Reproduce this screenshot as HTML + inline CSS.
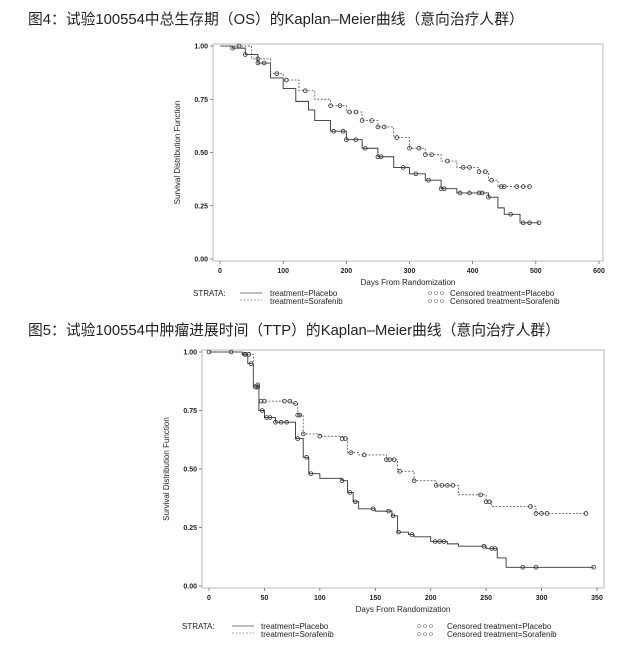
<!DOCTYPE html>
<html><head><meta charset="utf-8">
<style>
body{margin:0;background:#fff;width:633px;height:648px;overflow:hidden}
svg{display:block}
text{font-family:"Liberation Sans","Noto Sans CJK SC",sans-serif;fill:#222}
.tk{font-size:7px;font-weight:bold}
.lg{font-size:8px}
.ttl{font-size:14.8px}
</style></head>
<body>
<svg id="s" width="633" height="648">
<text class="ttl" x="28" y="24">图4：试验100554中总生存期（OS）的Kaplan–Meier曲线（意向治疗人群）</text>
<text class="ttl" x="28" y="335">图5：试验100554中肿瘤进展时间（TTP）的Kaplan–Meier曲线（意向治疗人群）</text>
</svg>
<script>
// OS chart data
const osXTicks=[0,100,200,300,400,500,600];
const yTicks=[0,0.25,0.5,0.75,1];
const yTickLabels=["0.00","0.25","0.50","0.75","1.00"];
const osPlaceboT=[0,20,40,60,80,100,120,140,150,175,200,225,250,275,300,325,350,375,410,425,440,450,465,475,505];
const osPlaceboS=[1,0.99,0.96,0.92,0.85,0.80,0.74,0.70,0.65,0.60,0.56,0.52,0.48,0.43,0.40,0.37,0.33,0.31,0.31,0.29,0.24,0.21,0.21,0.17,0.17];
const osSoraT=[0,50,80,100,125,150,175,200,225,250,275,300,325,350,375,410,425,440,490];
const osSoraS=[1,0.94,0.87,0.84,0.79,0.75,0.72,0.69,0.65,0.62,0.57,0.52,0.49,0.46,0.43,0.41,0.37,0.34,0.34];
const osPlaceboCens=[20,40,60,70,180,195,200,215,230,250,255,290,310,330,350,355,380,395,410,415,425,460,480,490,505];
const osSoraCens=[30,60,90,105,135,175,190,205,215,225,240,250,260,280,300,315,325,335,360,385,395,410,420,430,445,450,470,480,490];
// TTP chart data
const ttpXTicks=[0,50,100,150,200,250,300,350];
const ttpPlaceboT=[0,30,35,40,45,50,60,75,78,85,90,100,120,125,130,135,150,165,170,180,185,200,215,225,250,260,268,347];
const ttpPlaceboS=[1,0.99,0.95,0.85,0.75,0.72,0.70,0.70,0.63,0.55,0.48,0.46,0.45,0.40,0.36,0.33,0.32,0.30,0.23,0.22,0.21,0.19,0.18,0.17,0.16,0.12,0.08,0.08];
const ttpSoraT=[0,30,40,45,75,80,85,100,120,125,135,160,170,185,205,225,250,255,290,295,340];
const ttpSoraS=[1,0.99,0.86,0.79,0.78,0.73,0.65,0.64,0.63,0.57,0.56,0.54,0.49,0.45,0.43,0.39,0.36,0.34,0.34,0.31,0.31];
const ttpPlaceboCens=[33,38,42,44,48,52,55,60,65,70,80,88,92,120,127,132,148,162,166,171,183,204,208,212,248,255,258,283,295,347];
const ttpSoraCens=[0,20,32,36,44,47,50,68,73,78,80,82,85,100,120,123,128,140,160,163,167,172,185,205,210,215,220,245,250,253,290,295,300,305,340];

const NS="http://www.w3.org/2000/svg";
const svg=document.getElementById('s');
function mk(tag,attrs,parent){const e=document.createElementNS(NS,tag);for(const k in attrs)e.setAttribute(k,attrs[k]);(parent||svg).appendChild(e);return e;}
function stepAt(T,S,t){let v=S[0];for(let i=0;i<T.length;i++){if(T[i]<=t)v=S[i];}return v;}

function chart(cfg){
  const g=mk('g',{});
  
  
  const xs=t=>cfg.x0+(cfg.x1-cfg.x0)*t/cfg.xmax;
  const ys=v=>cfg.y0+(cfg.y1-cfg.y0)*v;
  const fr=mk('rect',{x:cfg.fl,y:cfg.ft,width:cfg.fr-cfg.fl,height:cfg.fb-cfg.ft,fill:'none',stroke:'#aaa','stroke-width':0.8},g);
  
  
  cfg.xticks.forEach(t=>{
    const l=mk('line',{x1:xs(t),x2:xs(t),y1:cfg.fb,y2:cfg.fb+3,stroke:'#555','stroke-width':0.7},g);
    
    
    const tx=mk('text',{x:xs(t),y:cfg.fb+12,'text-anchor':'middle',class:'tk'},g);tx.textContent=t;
    
    
  });
  yTicks.forEach((v,i)=>{
    const l=mk('line',{x1:cfg.fl-3,x2:cfg.fl,y1:ys(v),y2:ys(v),stroke:'#555','stroke-width':0.7},g);
    
    
    const tx=mk('text',{x:cfg.fl-5,y:ys(v)+2.5,'text-anchor':'end',class:'tk'},g);tx.textContent=yTickLabels[i];
    
    
  });
  const xl=mk('text',{x:(cfg.fl+cfg.fr)/2,y:cfg.fb+24,'text-anchor':'middle',class:'lg'},g);xl.textContent='Days From Randomization';
  
  
  const ycx=cfg.fl-33,ycy=(cfg.ft+cfg.fb)/2;
  const yl=mk('text',{x:ycx,y:ycy,'text-anchor':'middle',class:'lg',transform:`rotate(-90 ${ycx} ${ycy})`},g);yl.textContent='Survival Distribution Function';
  
  
  function curve(T,S,dash,nm){
    let d=`M${xs(T[0])},${ys(S[0])}`;
    for(let i=1;i<T.length;i++){d+=`H${xs(T[i])}V${ys(S[i])}`;}
    const p=mk('path',{d:d,fill:'none',stroke:dash?'#666':'#333','stroke-width':0.9,'stroke-dasharray':dash?'2,1.5':''},g);
    
    
  }
  function cens(T,S,C,nm){
    C.forEach(t=>{
      const c=mk('circle',{cx:xs(t),cy:ys(stepAt(T,S,t)),r:1.9,fill:'none',stroke:'#333','stroke-width':0.8},g);
      
      
    });
  }
  curve(cfg.pT,cfg.pS,false,'placebo-curve');
  curve(cfg.sT,cfg.sS,true,'sorafenib-curve');
  cens(cfg.pT,cfg.pS,cfg.pC,'placebo-censor-mark');
  cens(cfg.sT,cfg.sS,cfg.sC,'sorafenib-censor-mark');
  const L=cfg.leg;
  const lg=mk('g',{},g);
  
  
  let t=mk('text',{x:L.sx,y:L.y,class:'lg'},lg);t.textContent='STRATA:';
  mk('line',{x1:L.lx,x2:L.lx+22,y1:L.y-3,y2:L.y-3,stroke:'#555','stroke-width':0.7},lg);
  mk('line',{x1:L.lx,x2:L.lx+22,y1:L.y+4,y2:L.y+4,stroke:'#888','stroke-width':0.7,'stroke-dasharray':'2,1.5'},lg);
  t=mk('text',{x:L.tx,y:L.y,class:'lg'},lg);t.textContent='treatment=Placebo';
  t=mk('text',{x:L.tx,y:L.y+8,class:'lg'},lg);t.textContent='treatment=Sorafenib';
  for(let k=0;k<3;k++){
    mk('circle',{cx:L.cx+k*6,cy:L.y-3,r:1.5,fill:'none',stroke:'#777','stroke-width':0.6},lg);
    mk('circle',{cx:L.cx+k*6,cy:L.y+5,r:1.5,fill:'none',stroke:'#777','stroke-width':0.6},lg);
  }
  t=mk('text',{x:L.ct,y:L.y,class:'lg'},lg);t.textContent='Censored treatment=Placebo';
  t=mk('text',{x:L.ct,y:L.y+8,class:'lg'},lg);t.textContent='Censored treatment=Sorafenib';
}
chart({name:'os-chart',x0:220,x1:599,xmax:600,y0:259,y1:46,fl:213,fr:603,ft:44,fb:261,xticks:osXTicks,
  pT:osPlaceboT,pS:osPlaceboS,sT:osSoraT,sS:osSoraS,pC:osPlaceboCens,sC:osSoraCens,
  leg:{sx:193,y:296,lx:240,tx:270,cx:430,ct:450}});
chart({name:'ttp-chart',x0:209,x1:597,xmax:350,y0:586,y1:352,fl:202,fr:604,ft:350,fb:588,xticks:ttpXTicks,
  pT:ttpPlaceboT,pS:ttpPlaceboS,sT:ttpSoraT,sS:ttpSoraS,pC:ttpPlaceboCens,sC:ttpSoraCens,
  leg:{sx:182,y:629,lx:232,tx:261,cx:419,ct:447}});
</script>
</body></html>
